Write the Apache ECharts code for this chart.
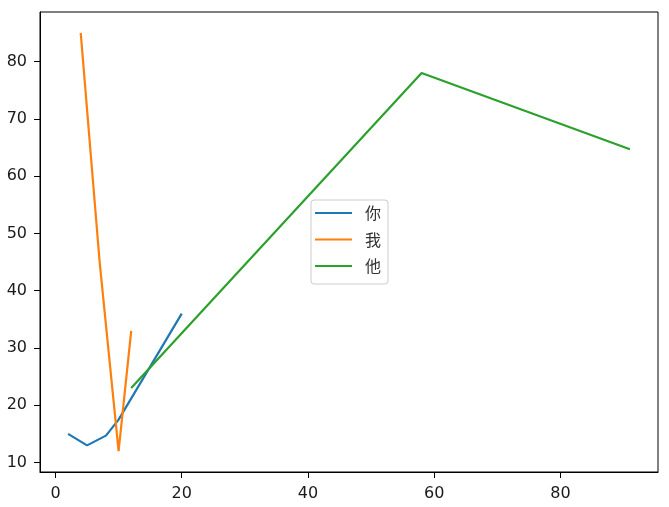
<!DOCTYPE html>
<html>
<head>
<meta charset="utf-8">
<script src="https://cdn.jsdelivr.net/npm/echarts@6/dist/echarts.min.js"></script>
<style>html,body{margin:0;padding:0;background:#fff}#c{width:669px;height:507px}</style>
</head>
<body>
<div id="c"></div>
<script>
const seriesNames = ['你', '我', '他'];
const blueX = [2, 5, 8, 10, 20];
const blueY = [15, 13, 14.7, 17.5, 36];
const orangeX = [4, 7, 10, 12];
const orangeY = [85, 45, 12, 33];
const greenX = [12, 58, 91];
const greenY = [23, 78, 64.7];
const xTicks = [0, 20, 40, 60, 80];
const yTicks = [10, 20, 30, 40, 50, 60, 70, 80];
const colors = ['#1f77b4', '#ff7f0e', '#2ca02c'];

const pairs = (xs, ys) => xs.map((x, i) => [x, ys[i]]);
const allX = blueX.concat(orangeX, greenX);
const allY = blueY.concat(orangeY, greenY);
const xMinD = Math.min(...allX), xMaxD = Math.max(...allX);
const yMinD = Math.min(...allY), yMaxD = Math.max(...allY);
const xm = (xMaxD - xMinD) * 0.05, ym = (yMaxD - yMinD) * 0.05;

const font = 'DejaVu Sans';
const lineIcon = 'path://M0,0 L370,0 L370,22 L0,22 Z';
const chart = echarts.init(document.getElementById('c'), null, {renderer: 'canvas'});
chart.setOption({
  animation: false,
  backgroundColor: '#fff',
  color: colors,
  grid: {left: 40, right: 11, top: 12, bottom: 35, show: true, borderColor: '#000', borderWidth: 1, backgroundColor: 'transparent'},
  xAxis: {
    type: 'value', min: xMinD - xm, max: xMaxD + xm,
    splitLine: {show: false},
    axisLine: {show: true, onZero: false, lineStyle: {color: '#000', width: 1}},
    axisTick: {show: true, length: 6, lineStyle: {color: '#000'}, customValues: xTicks},
    axisLabel: {margin: 14, color: '#1a1a1a', fontFamily: font, fontSize: 16, customValues: xTicks}
  },
  yAxis: {
    type: 'value', min: yMinD - ym, max: yMaxD + ym,
    splitLine: {show: false},
    axisLine: {show: true, onZero: false, lineStyle: {color: '#000', width: 1}},
    axisTick: {show: true, length: 6, lineStyle: {color: '#000'}, customValues: yTicks},
    axisLabel: {margin: 13, color: '#1a1a1a', fontFamily: font, fontSize: 16, customValues: yTicks}
  },
  legend: {
    orient: 'vertical', left: 311, top: 200,
    data: seriesNames.map(n => ({name: n, icon: lineIcon})),
    itemWidth: 37, itemHeight: 16, itemGap: 10.5,
    padding: [5, 7, 10, 4],
    backgroundColor: '#fff', borderColor: '#cccccc', borderWidth: 1, borderRadius: 3,
    textStyle: {fontFamily: 'Noto Sans CJK SC', fontSize: 16, color: '#333', lineHeight: 16, padding: [0, 0, 0, 8]}
  },
  series: [
    {name: seriesNames[0], type: 'line', data: pairs(blueX, blueY), symbol: 'none', lineStyle: {width: 2.2}},
    {name: seriesNames[1], type: 'line', data: pairs(orangeX, orangeY), symbol: 'none', lineStyle: {width: 2.2}},
    {name: seriesNames[2], type: 'line', data: pairs(greenX, greenY), symbol: 'none', lineStyle: {width: 2.2}}
  ]
});
</script>
</body>
</html>
